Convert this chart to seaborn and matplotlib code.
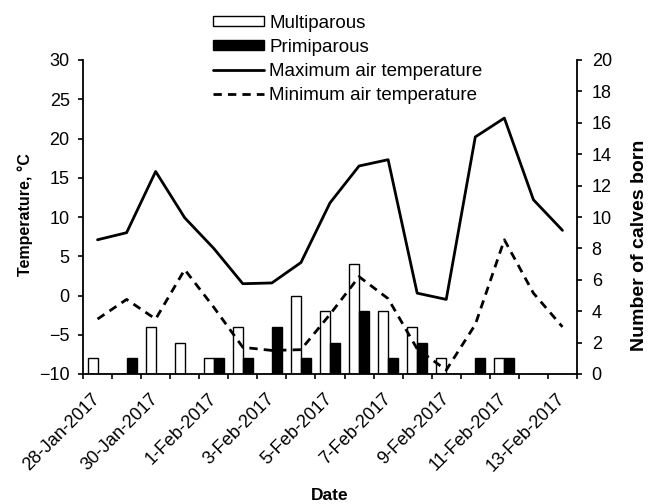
import numpy as np
import pandas as pd
import matplotlib
matplotlib.use("Agg")
import matplotlib.pyplot as plt
import seaborn as sns
from matplotlib.patches import Patch
from matplotlib.lines import Line2D

dates = ['28-Jan-2017', '29-Jan-2017', '30-Jan-2017', '31-Jan-2017', '1-Feb-2017',
         '2-Feb-2017', '3-Feb-2017', '4-Feb-2017', '5-Feb-2017', '6-Feb-2017',
         '7-Feb-2017', '8-Feb-2017', '9-Feb-2017', '10-Feb-2017', '11-Feb-2017',
         '12-Feb-2017', '13-Feb-2017']
multiparous = [1, 0, 3, 2, 1, 3, 0, 5, 4, 7, 4, 3, 1, 0, 1, 0, 0]
primiparous = [0, 1, 0, 0, 1, 1, 3, 1, 2, 4, 1, 2, 0, 1, 1, 0, 0]
max_temp = [7.1, 8.0, 15.8, 9.9, 6.0, 1.5, 1.6, 4.2, 11.8, 16.5, 17.3, 0.3, -0.5, 20.2, 22.6, 12.2, 8.3]
min_temp = [-3.0, -0.5, -3.0, 3.3, -1.5, -6.6, -7.0, -6.9, -2.4, 2.4, -0.4, -6.8, -9.5, -3.7, 7.1, 0.3, -4.0]
tick_labels = dates[::2]

sns.set_theme(style="ticks")
plt.rcParams['font.family'] = ['Liberation Sans', 'DejaVu Sans']
plt.rcParams['text.color'] = 'black'
plt.rcParams['axes.labelcolor'] = 'black'
plt.rcParams['xtick.color'] = 'black'
plt.rcParams['ytick.color'] = 'black'

W, H = 657, 504
fig = plt.figure(figsize=(W / 100, H / 100), dpi=100)
ax = fig.add_axes([83 / W, 1 - 374 / H, (577 - 83) / W, (374 - 60) / H])
ax2 = ax.twinx()

df = pd.DataFrame({
    'date': dates * 2,
    'parity': ['Multiparous'] * len(dates) + ['Primiparous'] * len(dates),
    'calves': multiparous + primiparous,
})
sns.barplot(data=df, x='date', y='calves', hue='parity', order=dates,
            hue_order=['Multiparous', 'Primiparous'],
            palette={'Multiparous': 'white', 'Primiparous': 'black'},
            edgecolor='black', linewidth=1.0, width=0.69, gap=0,
            errorbar=None, legend=False, ax=ax2)

pos = np.arange(len(dates))
sns.lineplot(x=pos, y=max_temp, ax=ax, color='black', linewidth=2.0, legend=False)
sns.lineplot(x=pos, y=min_temp, ax=ax, color='black', linewidth=2.0, legend=False,
             dashes=False)
ax.lines[-1].set_dashes((3, 2.2))

ax.set_zorder(ax2.get_zorder() + 1)
ax.patch.set_visible(False)

ax.set_ylim(-10, 30)
ax.set_yticks(np.arange(-10, 31, 5))
ax2.set_ylim(0, 20)
ax2.set_yticks(np.arange(0, 21, 2))
ax.set_xlim(-0.5, len(dates) - 0.5)

ax.set_xticks(np.arange(-0.5, len(dates), 1))
ax.set_xticklabels([''] * len(np.arange(-0.5, len(dates), 1)))
ax.set_xticks(np.arange(0, len(dates), 2), minor=True)
ax.set_xticklabels(tick_labels, minor=True, rotation=45, ha='right',
                   va='center', rotation_mode='anchor', fontsize=13)
ax.tick_params(axis='x', which='minor', length=0, pad=16)
ax.tick_params(axis='x', which='major', length=3.6, width=1.2, direction='out')
ax.tick_params(axis='y', length=3.6, width=1.2, direction='out', pad=6, labelsize=13)
ax2.tick_params(axis='y', length=3.6, width=1.2, direction='out', pad=7, labelsize=13)
ax.set_xlabel('')
ax.set_ylabel('')
ax2.set_xlabel('')
ax2.set_ylabel('')

for a in (ax, ax2):
    a.spines['top'].set_visible(False)
    for s in a.spines.values():
        s.set_linewidth(1.3)
        s.set_color('black')
ax.spines['right'].set_visible(False)
ax2.spines['left'].set_visible(False)
ax2.spines['bottom'].set_visible(False)

fig.text(25 / W, 1 - 215 / H, 'Temperature, °C', rotation=90, ha='center', va='center',
         fontsize=11.5, fontweight='bold')
fig.text(640 / W, 1 - 245 / H, 'Number of calves born', rotation=90, ha='center',
         va='center', fontsize=14, fontweight='bold')
fig.text(330 / W, 1 - 495 / H, 'Date', ha='center', va='center', fontsize=12.5,
         fontweight='bold')

handles = [
    Patch(facecolor='white', edgecolor='black', linewidth=1.0),
    Patch(facecolor='black', edgecolor='black', linewidth=1.0),
    Line2D([0], [0], color='black', linewidth=2.0),
    Line2D([0], [0], color='black', linewidth=2.0, dashes=(3, 2.2)),
]
labels = ['Multiparous', 'Primiparous', 'Maximum air temperature', 'Minimum air temperature']
fig.legend(handles, labels, loc='upper left', bbox_to_anchor=(213 / W, 1 - 15 / H),
           frameon=False, borderpad=0, borderaxespad=0, handlelength=2.7,
           handleheight=0.45, handletextpad=0.3, labelspacing=0.37, fontsize=13.5)

fig.savefig('out.png', dpi=100)
